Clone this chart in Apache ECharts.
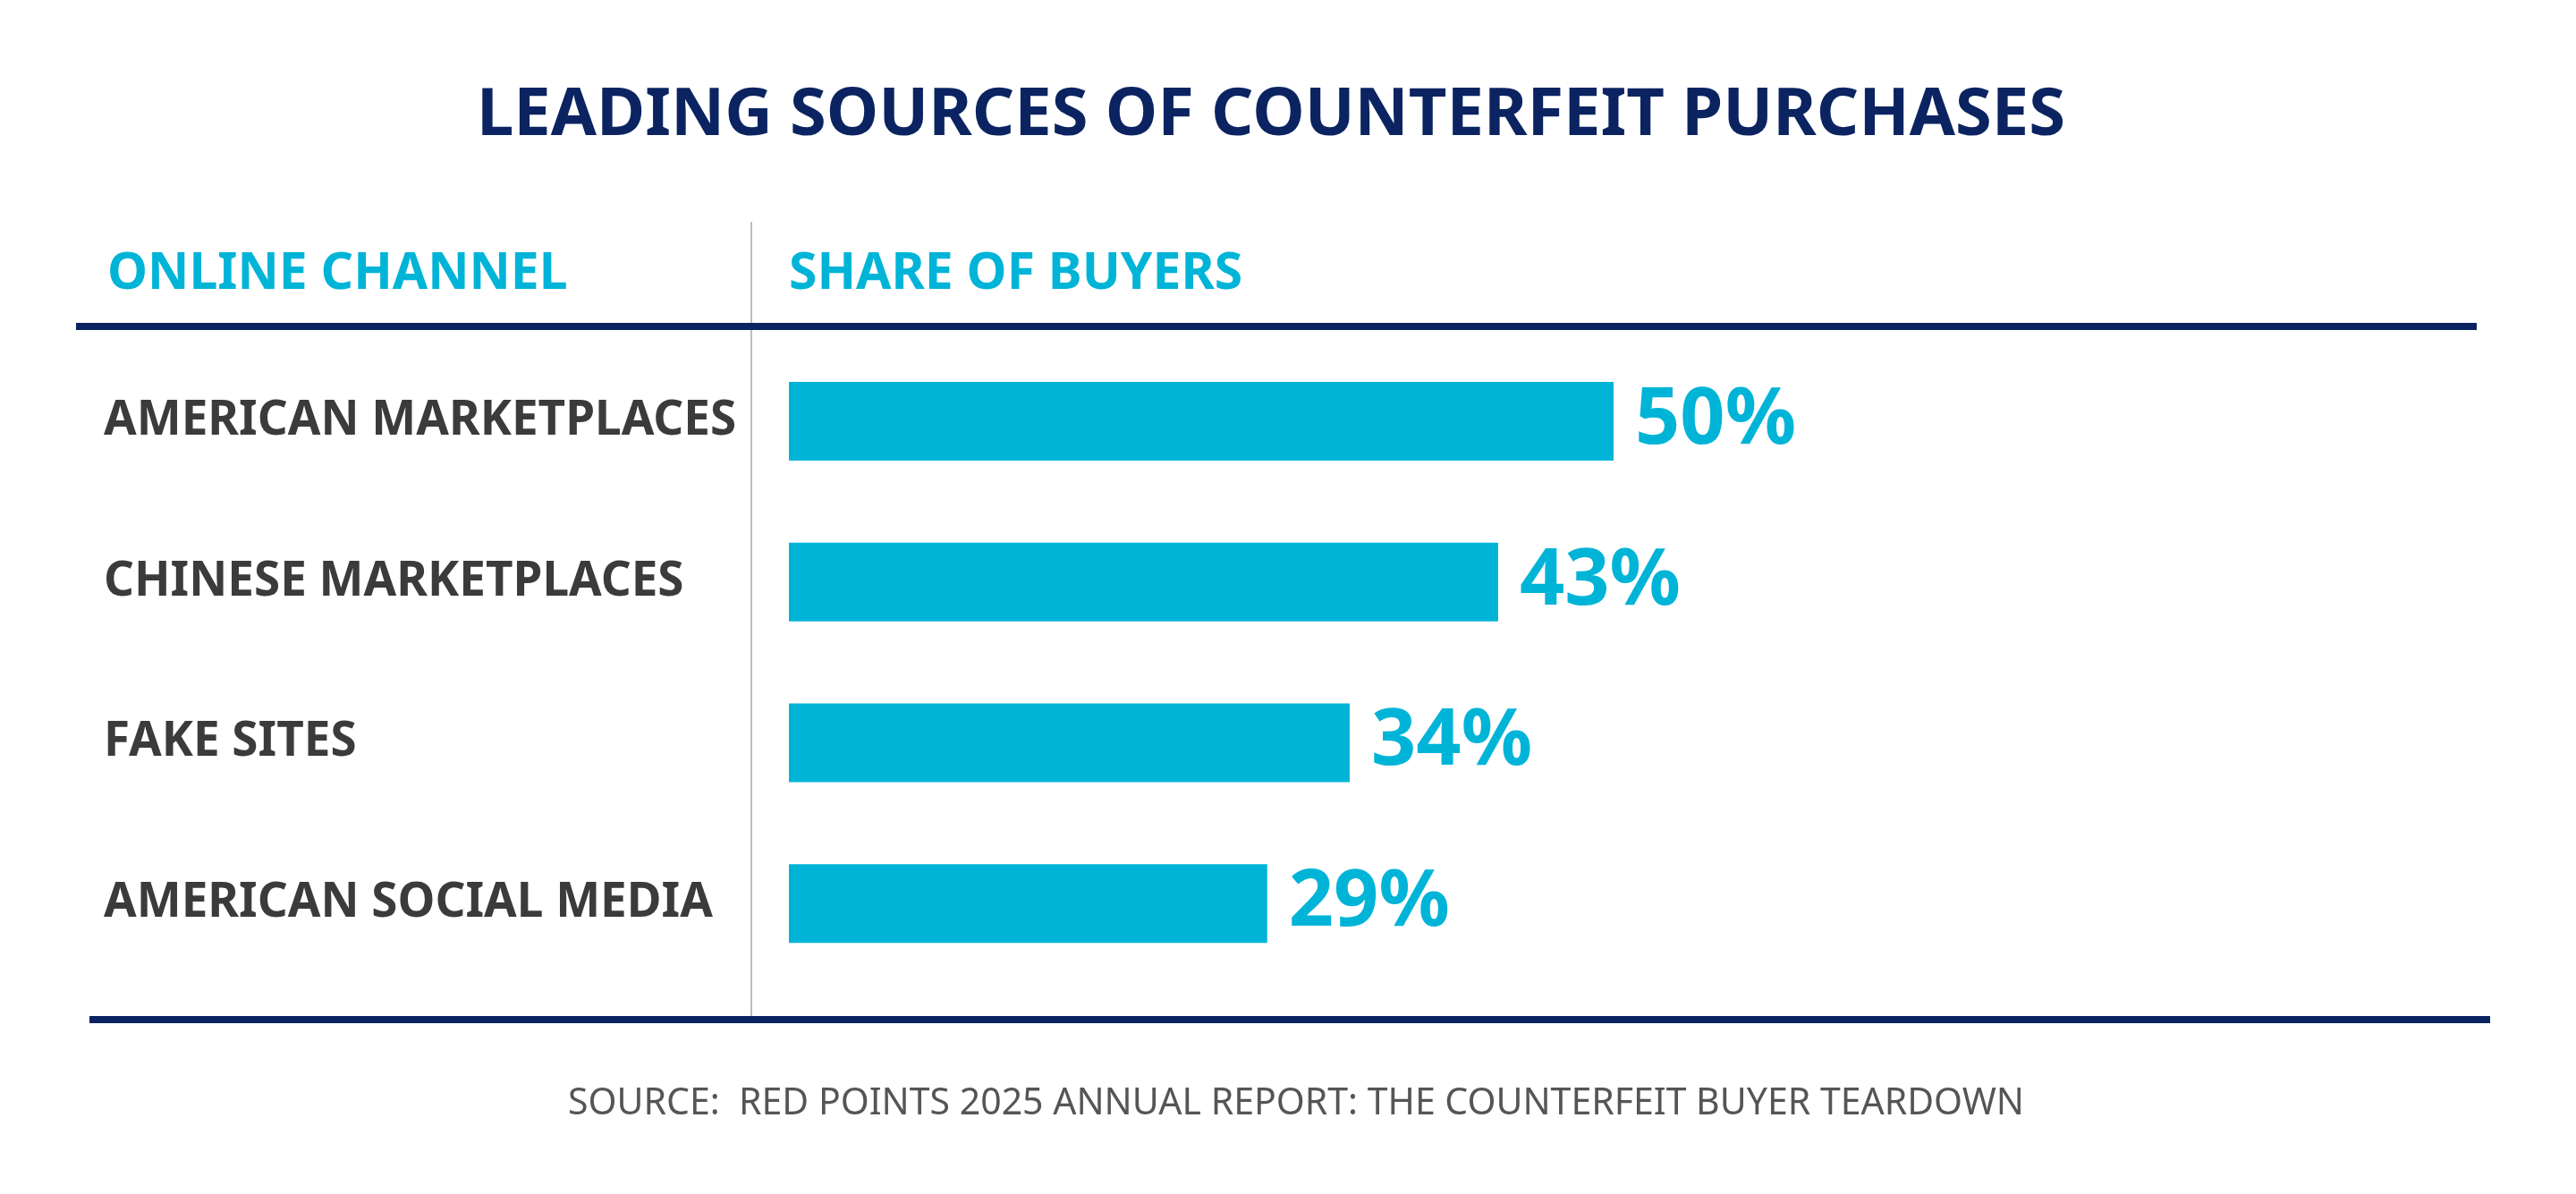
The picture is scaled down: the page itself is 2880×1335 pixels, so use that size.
<!DOCTYPE html>
<html>
<head>
<meta charset="utf-8">
<script src="https://cdn.jsdelivr.net/npm/echarts@6/dist/echarts.min.js"></script>
<style>html,body{margin:0;padding:0;background:#fff;}#c{width:2880px;height:1335px;}</style>
</head>
<body>
<div id="c"></div>
<script>
const categories = ['AMERICAN MARKETPLACES', 'CHINESE MARKETPLACES', 'FAKE SITES', 'AMERICAN SOCIAL MEDIA'];
const values = [50, 43, 34, 29];
const titleText = 'LEADING SOURCES OF COUNTERFEIT PURCHASES';
const headerLeft = 'ONLINE CHANNEL';
const headerRight = 'SHARE OF BUYERS';
const sourceText = 'SOURCE:  RED POINTS 2025 ANNUAL REPORT: THE COUNTERFEIT BUYER TEARDOWN';

const FONT = '"Noto Sans", "DejaVu Sans", sans-serif';
const NAVY = '#0b2461';
const CYAN = '#00b4d8';

const chart = echarts.init(document.getElementById('c'));
chart.setOption({
  backgroundColor: '#ffffff',
  animation: false,
  grid: { left: 882, right: 2880 - 2726, top: 381, bottom: 1335 - 1100, containLabel: false },
  xAxis: { type: 'value', min: 0, max: 100, show: false },
  yAxis: {
    type: 'category',
    data: categories,
    inverse: true,
    axisLine: { show: false },
    axisTick: { show: false },
    splitLine: { show: false },
    axisLabel: {
      align: 'left',
      margin: 766,
      fontFamily: FONT,
      fontWeight: 'bold',
      fontSize: 53,
      color: '#3b3b3b'
    }
  },
  series: [{
    type: 'bar',
    data: values,
    barWidth: 88,
    itemStyle: { color: CYAN },
    label: {
      show: true,
      position: 'right',
      distance: 24,
      formatter: '{c}%',
      fontFamily: FONT,
      fontWeight: 'bold',
      fontSize: 88,
      color: CYAN
    }
  }],
  graphic: [
    { type: 'line', shape: { x1: 840, y1: 248, x2: 840, y2: 1136 }, style: { stroke: '#bdbdbd', lineWidth: 2 }, z: 1 },
    { type: 'line', shape: { x1: 85, y1: 365, x2: 2769, y2: 365 }, style: { stroke: NAVY, lineWidth: 8 }, z: 2 },
    { type: 'line', shape: { x1: 100, y1: 1140, x2: 2784, y2: 1140 }, style: { stroke: NAVY, lineWidth: 8 }, z: 2 },
    { type: 'text', x: 1421, y: 130, style: { text: titleText, fontFamily: FONT, fontWeight: 'bold', fontSize: 74, fill: NAVY, textAlign: 'center', textVerticalAlign: 'middle' } },
    { type: 'text', x: 120, y: 307, style: { text: headerLeft, fontFamily: FONT, fontWeight: 'bold', fontSize: 57, fill: CYAN, textAlign: 'left', textVerticalAlign: 'middle' } },
    { type: 'text', x: 882, y: 307, style: { text: headerRight, fontFamily: FONT, fontWeight: 'bold', fontSize: 57, fill: CYAN, textAlign: 'left', textVerticalAlign: 'middle' } },
    { type: 'text', x: 1449, y: 1234, style: { text: sourceText, fontFamily: FONT, fontSize: 41, fill: '#555555', textAlign: 'center', textVerticalAlign: 'middle' } }
  ]
});
</script>
</body>
</html>
